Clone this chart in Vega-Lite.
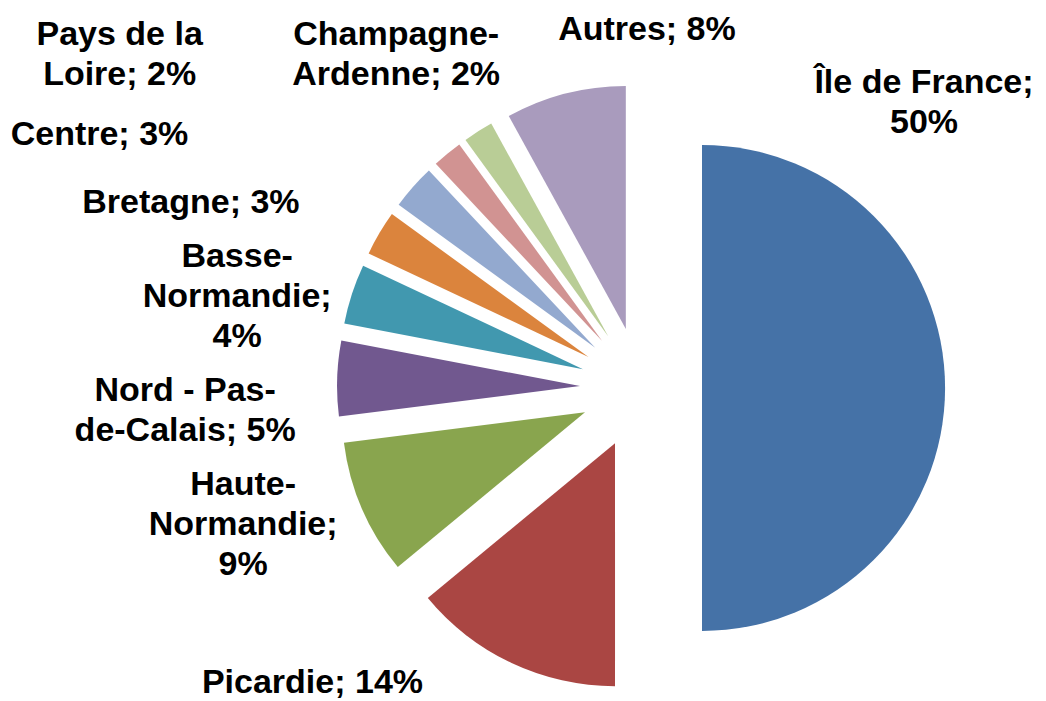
{
  "$schema": "https://vega.github.io/schema/vega-lite/v6.json",
  "width": 810,
  "height": 626,
  "autosize": {"type": "none"},
  "padding": {"left": 236, "top": 75, "right": 0, "bottom": 0},
  "background": "white",
  "view": {"stroke": null},
  "data": {
    "values": [
      {"rank": 1, "region": "Île de France", "share": 50, "label": "Île de France;\n50%"},
      {"rank": 2, "region": "Picardie", "share": 14, "label": "Picardie; 14%"},
      {"rank": 3, "region": "Haute-Normandie", "share": 9, "label": "Haute-\nNormandie;\n9%"},
      {"rank": 4, "region": "Nord - Pas-de-Calais", "share": 5, "label": "Nord - Pas-\nde-Calais; 5%"},
      {"rank": 5, "region": "Basse-Normandie", "share": 4, "label": "Basse-\nNormandie;\n4%"},
      {"rank": 6, "region": "Bretagne", "share": 3, "label": "Bretagne; 3%"},
      {"rank": 7, "region": "Centre", "share": 3, "label": "Centre; 3%"},
      {"rank": 8, "region": "Pays de la Loire", "share": 2, "label": "Pays de la\nLoire; 2%"},
      {"rank": 9, "region": "Champagne-Ardenne", "share": 2, "label": "Champagne-\nArdenne; 2%"},
      {"rank": 10, "region": "Autres", "share": 8, "label": "Autres; 8%"}
    ]
  },
  "encoding": {
    "theta": {"field": "share", "type": "quantitative", "stack": true},
    "order": {"field": "rank", "type": "quantitative", "sort": "ascending"}
  },
  "layer": [
    {
      "mark": {
        "type": "arc",
        "radius": 243,
        "xOffset": {"expr": "61*sin((scale('theta',datum.share_start)+scale('theta',datum.share_end))/2)"},
        "yOffset": {"expr": "-61*cos((scale('theta',datum.share_start)+scale('theta',datum.share_end))/2)"}
      },
      "encoding": {
        "color": {
          "field": "region",
          "type": "nominal",
          "scale": {
            "domain": ["Île de France", "Picardie", "Haute-Normandie", "Nord - Pas-de-Calais", "Basse-Normandie", "Bretagne", "Centre", "Pays de la Loire", "Champagne-Ardenne", "Autres"],
            "range": ["#4572A7", "#AA4643", "#89A54E", "#71588F", "#4198AF", "#DB843D", "#93A9CF", "#D19392", "#B9CD96", "#A99BBD"]
          },
          "legend": null
        }
      }
    },
    {
      "mark": {
        "type": "text",
        "radius": 330,
        "font": "Liberation Sans",
        "fontWeight": "bold",
        "fontSize": 34,
        "lineHeight": 40,
        "lineBreak": "\n",
        "align": "center",
        "baseline": "middle",
        "fill": "#000000",
        "dx": {"expr": "[-47, -188, -95, -126, -90, -166, -294, -311, -68, 88][datum.rank - 1]"},
        "dy": {"expr": "[-305, -4, -34, 13, -29, -17, -35, -99, -74, -38][datum.rank - 1]"}
      },
      "encoding": {
        "text": {"field": "label", "type": "nominal"}
      }
    }
  ]
}
